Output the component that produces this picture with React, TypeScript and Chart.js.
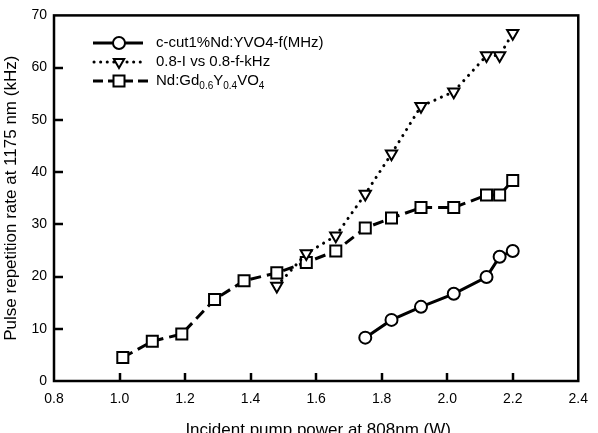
import { useEffect, useRef } from "react";
import { Chart, registerables } from "chart.js";

Chart.register(...registerables);

// c-cut 1% Nd:YVO4 repetition rate (MHz scale values)
const powerCircle = [1.75, 1.83, 1.92, 2.02, 2.12, 2.16, 2.2];
const rateCircle = [8.3, 11.7, 14.2, 16.7, 19.9, 23.8, 24.9];

// 0.8-I vs 0.8-f-kHz
const powerTriangle = [1.48, 1.57, 1.66, 1.75, 1.83, 1.92, 2.02, 2.12, 2.16, 2.2];
const rateTriangle = [18.2, 24.4, 27.8, 35.8, 43.5, 52.6, 55.4, 62.3, 62.3, 66.6];

// Nd:Gd0.6Y0.4VO4
const powerSquare = [1.01, 1.1, 1.19, 1.29, 1.38, 1.48, 1.57, 1.66, 1.75, 1.83, 1.92, 2.02, 2.12, 2.16, 2.2];
const rateSquare = [4.5, 7.6, 9.0, 15.6, 19.2, 20.7, 22.7, 24.9, 29.3, 31.2, 33.2, 33.2, 35.6, 35.6, 38.4];

const xTicks = [0.8, 1.0, 1.2, 1.4, 1.6, 1.8, 2.0, 2.2, 2.4];
const yTicks = [0, 10, 20, 30, 40, 50, 60, 70];

const xTitle = "Incident pump power at 808nm (W)";
const yTitle = "Pulse repetition rate at 1175 nm (kHz)";
const legendCircle = "c-cut1%Nd:YVO4-f(MHz)";
const legendTriangle = "0.8-I vs 0.8-f-kHz";
// text runs for the third legend entry: [text, subscript?]
const legendSquare: [string, boolean][] = [
  ["Nd:Gd", false],
  ["0.6", true],
  ["Y", false],
  ["0.4", true],
  ["VO", false],
  ["4", true],
];

const FONT = "'Liberation Sans', Arial, sans-serif";

const toPoints = (xs: number[], ys: number[]) => xs.map((x, i) => ({ x, y: ys[i] }));

function drawMarker(ctx: CanvasRenderingContext2D, kind: string, x: number, y: number) {
  ctx.save();
  ctx.fillStyle = "#fff";
  ctx.strokeStyle = "#000";
  ctx.lineWidth = 2;
  ctx.setLineDash([]);
  ctx.beginPath();
  if (kind === "circle") {
    ctx.arc(x, y, 6, 0, Math.PI * 2);
  } else if (kind === "square") {
    ctx.rect(x - 5.5, y - 5.5, 11, 11);
  } else {
    const r = 6;
    ctx.moveTo(x, y + r);
    ctx.lineTo(x - r * 0.866, y - r / 2);
    ctx.lineTo(x + r * 0.866, y - r / 2);
    ctx.closePath();
  }
  ctx.fill();
  ctx.stroke();
  ctx.restore();
}

const framePlugin = {
  id: "frameAndTicks",
  beforeDatasetsDraw(chart: any) {
    const { ctx, chartArea: a, scales } = chart;
    ctx.save();
    ctx.strokeStyle = "#000";
    ctx.lineWidth = 2.5;
    ctx.lineCap = "butt";
    xTicks.slice(1, -1).forEach((v) => {
      const px = Math.round(scales.x.getPixelForValue(v));
      ctx.beginPath();
      ctx.moveTo(px, a.bottom);
      ctx.lineTo(px, a.bottom - 8);
      ctx.stroke();
    });
    yTicks.slice(1, -1).forEach((v) => {
      const py = Math.round(scales.y.getPixelForValue(v));
      ctx.beginPath();
      ctx.moveTo(a.left, py);
      ctx.lineTo(a.left + 9, py);
      ctx.stroke();
    });
    ctx.strokeRect(a.left, a.top, a.right - a.left, a.bottom - a.top);
    ctx.restore();
  },
  afterDraw(chart: any) {
    const { ctx, chartArea: a } = chart;
    ctx.save();
    ctx.fillStyle = "#000";

    // axis titles
    ctx.font = `17px ${FONT}`;
    ctx.textAlign = "center";
    ctx.textBaseline = "alphabetic";
    ctx.fillText(xTitle, (a.left + a.right) / 2 + 2, 435);
    ctx.save();
    ctx.translate(15.5, (a.top + a.bottom) / 2);
    ctx.rotate(-Math.PI / 2);
    ctx.fillText(yTitle, 0, 0);
    ctx.restore();

    // legend
    const x0 = 93;
    const x1 = 143;
    const xm = 119;
    const tx = 156;
    const rows = [43, 62, 81];
    ctx.strokeStyle = "#000";
    ctx.lineWidth = 3;

    // solid
    ctx.setLineDash([]);
    ctx.lineCap = "butt";
    ctx.beginPath();
    ctx.moveTo(x0, rows[0]);
    ctx.lineTo(x1, rows[0]);
    ctx.stroke();
    drawMarker(ctx, "circle", xm, rows[0]);

    // dotted
    ctx.setLineDash([0.1, 6.5]);
    ctx.lineCap = "round";
    ctx.beginPath();
    ctx.moveTo(x0 + 1, rows[1]);
    ctx.lineTo(x1 + 2, rows[1]);
    ctx.stroke();
    drawMarker(ctx, "triangle", xm, rows[1]);

    // dashed
    ctx.setLineDash([10, 5]);
    ctx.lineCap = "butt";
    ctx.beginPath();
    ctx.moveTo(x0, rows[2]);
    ctx.lineTo(x1 + 5, rows[2]);
    ctx.stroke();
    ctx.setLineDash([]);
    drawMarker(ctx, "square", xm, rows[2]);

    ctx.textAlign = "left";
    ctx.textBaseline = "middle";
    ctx.font = `15px ${FONT}`;
    ctx.fillText(legendCircle, tx, rows[0]);
    ctx.fillText(legendTriangle, tx, rows[1]);
    let cx = tx;
    legendSquare.forEach(([t, sub]) => {
      ctx.font = sub ? `10px ${FONT}` : `15px ${FONT}`;
      ctx.fillText(t, cx, rows[2] + (sub ? 5 : 0));
      cx += ctx.measureText(t).width;
    });
    ctx.restore();
  },
};

export default function App() {
  const ref = useRef<HTMLCanvasElement | null>(null);

  useEffect(() => {
    if (!ref.current) return;
    const chart = new Chart(ref.current, {
      type: "line",
      data: {
        datasets: [
          {
            label: legendCircle,
            data: toPoints(powerCircle, rateCircle),
            borderColor: "#000",
            borderWidth: 3,
            pointStyle: "circle",
            pointRadius: 6,
            pointBorderWidth: 2,
            pointBackgroundColor: "#fff",
            pointBorderColor: "#000",
            tension: 0,
          },
          {
            label: legendTriangle,
            data: toPoints(powerTriangle, rateTriangle),
            borderColor: "#000",
            borderWidth: 3,
            borderDash: [0.1, 7],
            borderCapStyle: "round",
            pointStyle: "triangle",
            pointRotation: 180,
            pointRadius: 6.5,
            pointBorderWidth: 2,
            pointBackgroundColor: "#fff",
            pointBorderColor: "#000",
            tension: 0,
          },
          {
            label: "Nd:Gd0.6Y0.4VO4",
            data: toPoints(powerSquare, rateSquare),
            borderColor: "#000",
            borderWidth: 3,
            borderDash: [11, 6],
            pointStyle: "rect",
            pointRadius: 7.8,
            pointBorderWidth: 2,
            pointBackgroundColor: "#fff",
            pointBorderColor: "#000",
            tension: 0,
          },
        ],
      },
      options: {
        responsive: false,
        animation: false,
        devicePixelRatio: 1,
        layout: { padding: { top: 10, right: 14, left: 0, bottom: 0 } },
        plugins: {
          legend: { display: false },
          tooltip: { enabled: false },
        },
        scales: {
          x: {
            type: "linear",
            min: 0.8,
            max: 2.4,
            grid: { display: false, drawTicks: false },
            border: { display: false },
            afterBuildTicks: (s: any) => {
              s.ticks = xTicks.map((value) => ({ value }));
            },
            afterFit: (s: any) => {
              s.height = 52;
            },
            ticks: {
              padding: 10,
              color: "#000",
              font: { family: FONT, size: 14 },
              maxRotation: 0,
              autoSkip: false,
              callback: (v: any) => Number(v).toFixed(1),
            },
          },
          y: {
            type: "linear",
            min: 0,
            max: 70,
            grid: { display: false, drawTicks: false },
            border: { display: false },
            afterBuildTicks: (s: any) => {
              s.ticks = yTicks.map((value) => ({ value }));
            },
            afterFit: (s: any) => {
              s.width = 54;
            },
            ticks: {
              padding: 7,
              color: "#000",
              font: { family: FONT, size: 14 },
              autoSkip: false,
              callback: (v: any) => String(v),
            },
          },
        },
      },
      plugins: [framePlugin],
    });
    return () => chart.destroy();
  }, []);

  return (
    <div style={{ position: "absolute", left: 0, top: 0, width: 598, height: 433, background: "#fff" }}>
      <canvas ref={ref} width={598} height={433} style={{ display: "block" }} />
    </div>
  );
}
